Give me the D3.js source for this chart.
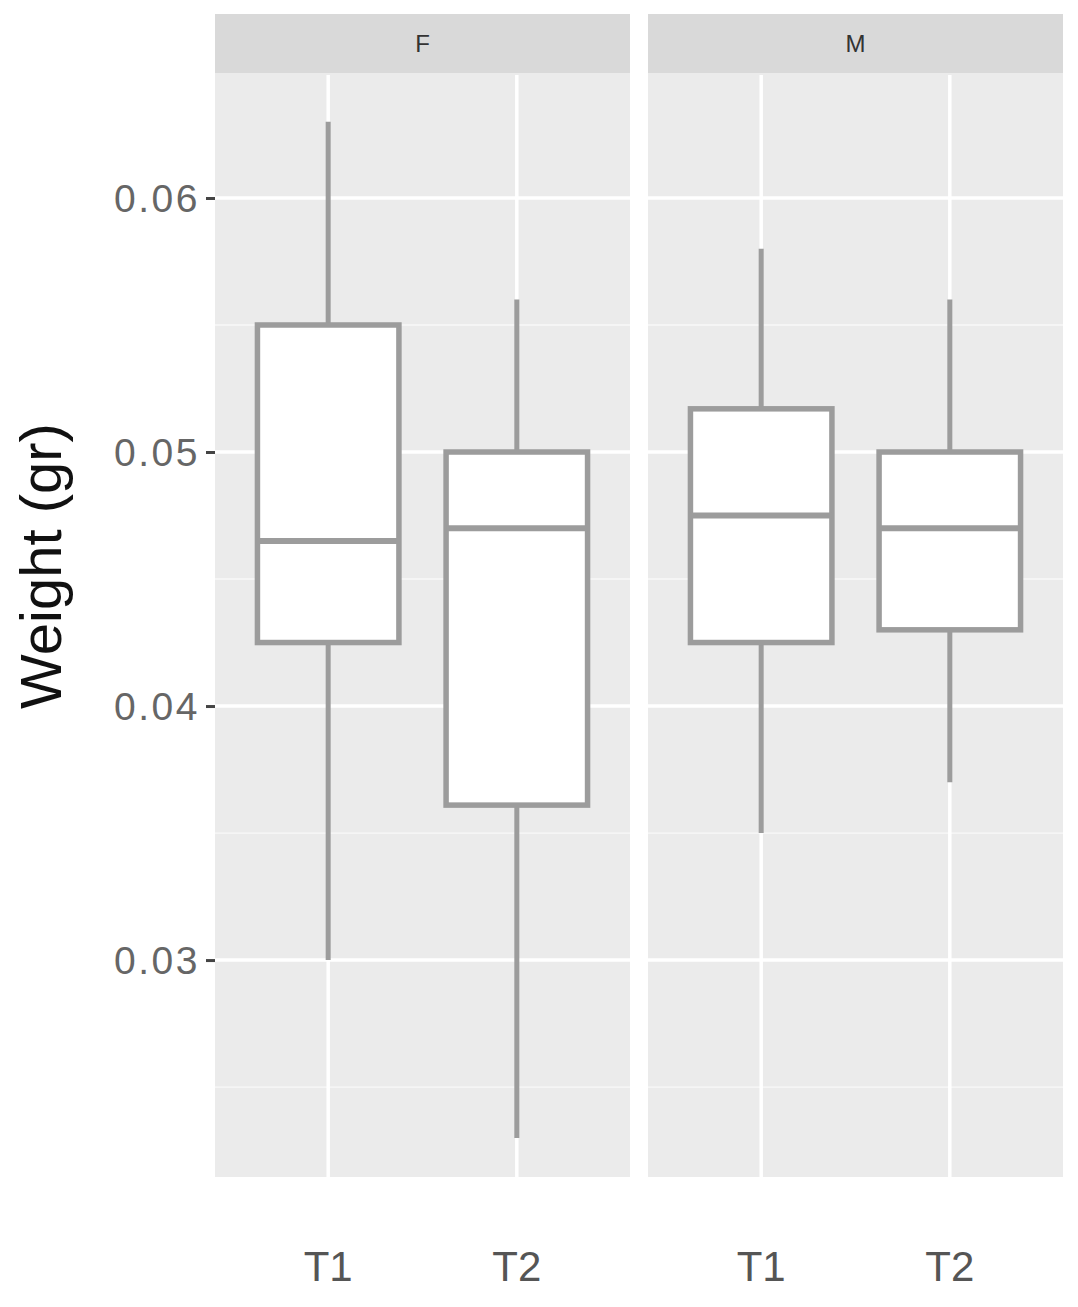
<!DOCTYPE html>
<html><head><meta charset="utf-8">
<script src="https://cdn.jsdelivr.net/npm/d3@7"></script>
<style>body{margin:0;background:#fff}svg{display:block}</style>
</head><body>
<svg id="c" width="1078" height="1307"></svg>
<script>
// ---- data ----
const panels = ["F", "M"];
const groups = ["T1", "T2"];
// each box: [lowerWhisker, Q1, median, Q3, upperWhisker]
const boxF_T1 = [0.0300, 0.0425, 0.0465, 0.0550, 0.0630];
const boxF_T2 = [0.0230, 0.0361, 0.0470, 0.0500, 0.0560];
const boxM_T1 = [0.0350, 0.0425, 0.0475, 0.0517, 0.0580];
const boxM_T2 = [0.0370, 0.0430, 0.0470, 0.0500, 0.0560];
const yTicks = [0.03, 0.04, 0.05, 0.06];
const yMinor = [0.025, 0.035, 0.045, 0.055];
const yDomain = [0.02146, 0.06492];
const yTitle = "Weight (gr)";

const boxes = [
  {panel:"F", group:"T1", v:boxF_T1},
  {panel:"F", group:"T2", v:boxF_T2},
  {panel:"M", group:"T1", v:boxM_T1},
  {panel:"M", group:"T2", v:boxM_T2}
];

// ---- layout ----
const svg = d3.select("#c");
const plotTop = 73, plotBottom = 1177, stripTop = 14;
const panelX = {F:[215, 630], M:[648, 1063]};
const y = d3.scaleLinear().domain(yDomain).range([plotBottom, plotTop]);
const font = "'Liberation Sans', Arial, sans-serif";

panels.forEach(p => {
  const [x0, x1] = panelX[p];
  const x = d3.scalePoint().domain(groups).range([x0, x1]).padding(0.6);
  const g = svg.append("g");
  // strip
  g.append("rect").attr("x", x0).attr("y", stripTop).attr("width", x1 - x0).attr("height", plotTop - stripTop).attr("fill", "#d9d9d9");
  g.append("text").attr("x", (x0 + x1) / 2).attr("y", (stripTop + plotTop) / 2 + 8.5)
    .attr("text-anchor", "middle").attr("font-family", font).attr("font-size", 24).attr("fill", "#333").text(p);
  // panel bg
  g.append("rect").attr("x", x0).attr("y", plotTop).attr("width", x1 - x0).attr("height", plotBottom - plotTop).attr("fill", "#ebebeb");
  // minor gridlines
  g.selectAll(".mn").data(yMinor).join("line")
    .attr("x1", x0).attr("x2", x1).attr("y1", d => y(d)).attr("y2", d => y(d))
    .attr("stroke", "#f5f5f5").attr("stroke-width", 1.8);
  // major gridlines
  g.selectAll(".mj").data(yTicks).join("line")
    .attr("x1", x0).attr("x2", x1).attr("y1", d => y(d)).attr("y2", d => y(d))
    .attr("stroke", "#fff").attr("stroke-width", 3.5);
  g.selectAll(".vx").data(groups).join("line")
    .attr("x1", d => x(d)).attr("x2", d => x(d)).attr("y1", plotTop + 2).attr("y2", plotBottom)
    .attr("stroke", "#fff").attr("stroke-width", 3.5);
  // boxes
  const bw = x.step() * 0.75;
  boxes.filter(b => b.panel === p).forEach(b => {
    const cx = x(b.group), [lo, q1, med, q3, hi] = b.v;
    const col = "#9c9c9c";
    g.append("line").attr("x1", cx).attr("x2", cx).attr("y1", y(hi)).attr("y2", y(q3)).attr("stroke", col).attr("stroke-width", 5);
    g.append("line").attr("x1", cx).attr("x2", cx).attr("y1", y(q1)).attr("y2", y(lo)).attr("stroke", col).attr("stroke-width", 5);
    g.append("rect").attr("x", cx - bw / 2).attr("y", y(q3)).attr("width", bw).attr("height", y(q1) - y(q3))
      .attr("fill", "#fff").attr("stroke", col).attr("stroke-width", 5.5);
    g.append("line").attr("x1", cx - bw / 2).attr("x2", cx + bw / 2).attr("y1", y(med)).attr("y2", y(med))
      .attr("stroke", col).attr("stroke-width", 6);
  });
  // x labels
  g.selectAll(".xl").data(groups).join("text")
    .attr("x", d => x(d)).attr("y", 1281).attr("text-anchor", "middle")
    .attr("font-family", font).attr("font-size", 42).attr("fill", "#555").text(d => d);
});

// y axis
const yAxis = svg.append("g").attr("transform", `translate(${panelX.F[0]},0)`)
  .call(d3.axisLeft(y).tickValues(yTicks).tickFormat(d3.format(".2f")).tickSize(9).tickPadding(6));
yAxis.select(".domain").remove();
yAxis.selectAll(".tick line").attr("stroke", "#444").attr("stroke-width", 3);
yAxis.selectAll(".tick text").attr("font-family", font).attr("font-size", 39).attr("fill", "#666")
  .attr("letter-spacing", 2.5).attr("dy", "0.35em");

// y title
svg.append("text").attr("transform", "translate(61,566) rotate(-90)").attr("text-anchor", "middle")
  .attr("font-family", font).attr("font-size", 58).attr("fill", "#111").text(yTitle);
</script>
</body></html>
